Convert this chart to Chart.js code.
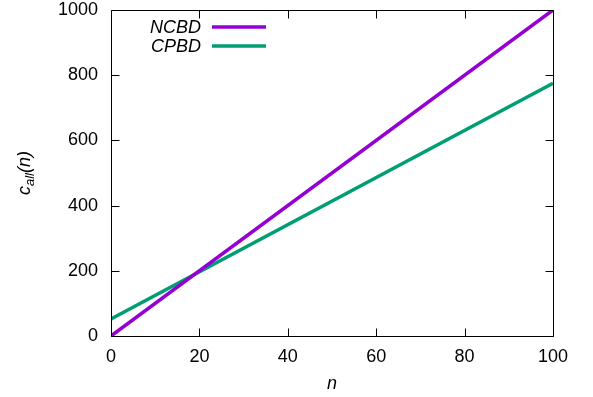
<!DOCTYPE html>
<html>
<head>
<meta charset="utf-8">
<script src="https://cdn.jsdelivr.net/npm/chart.js@4"></script>
<style>
  html, body { margin: 0; padding: 0; background: #fff; }
  #wrap { width: 593px; height: 397px; }
</style>
</head>
<body>
<div id="wrap"><canvas id="c" width="593" height="397"></canvas></div>
<script>
// Cost curves c_all(n) for both methods over n = 0..100
const nValues = [0, 100];
const ncbdValues = [0, 1000];
const cpbdValues = [52, 775];
const seriesNames = ['NCBD', 'CPBD'];
const seriesColors = ['#9400D3', '#009E73'];
const xTicks = [0, 20, 40, 60, 80, 100];
const yTicks = [0, 200, 400, 600, 800, 1000];

const FONT = '"Liberation Sans", Arial, Helvetica, sans-serif';
const FS = 18;
const LW = 3.5;

// Frame, mirrored inward ticks, axis titles and key
const gnuFrame = {
  id: 'gnuFrame',
  afterDatasetsDraw(chart) {
    const { ctx, chartArea: a, scales: { x, y } } = chart;
    ctx.save();
    ctx.strokeStyle = '#000';
    ctx.lineWidth = 1;
    const L = Math.round(a.left) + 0.5, R = Math.round(a.right) + 0.5;
    const T = Math.round(a.top) + 0.5, B = Math.round(a.bottom) + 0.5;
    ctx.beginPath();
    ctx.rect(L, T, R - L, B - T);
    ctx.stroke();
    const tl = 8;
    ctx.beginPath();
    xTicks.forEach(v => {
      const px = Math.round(x.getPixelForValue(v)) + 0.5;
      ctx.moveTo(px, B); ctx.lineTo(px, B - tl);
      ctx.moveTo(px, T); ctx.lineTo(px, T + tl);
    });
    yTicks.forEach(v => {
      const py = Math.round(y.getPixelForValue(v)) + 0.5;
      ctx.moveTo(L, py); ctx.lineTo(L + tl, py);
      ctx.moveTo(R, py); ctx.lineTo(R - tl, py);
    });
    ctx.stroke();

    // key
    ctx.font = 'italic ' + FS + 'px ' + FONT;
    ctx.textAlign = 'right';
    ctx.textBaseline = 'middle';
    seriesNames.forEach((name, i) => {
      const yy = 27 + i * 19;
      ctx.fillStyle = '#000';
      ctx.fillText(name, 201, yy + 1);
      ctx.strokeStyle = seriesColors[i];
      ctx.lineWidth = LW;
      ctx.beginPath();
      ctx.moveTo(212, yy); ctx.lineTo(266, yy);
      ctx.stroke();
    });

    // x title
    ctx.fillStyle = '#000';
    ctx.textAlign = 'center';
    ctx.textBaseline = 'alphabetic';
    ctx.fillText('n', (a.left + a.right) / 2, 389);

    // y title with subscript
    ctx.translate(30, (a.top + a.bottom) / 2);
    ctx.rotate(-Math.PI / 2);
    ctx.textAlign = 'left';
    const big = 'italic ' + FS + 'px ' + FONT;
    const small = 'italic 13px ' + FONT;
    ctx.font = big; const w1 = ctx.measureText('c').width;
    ctx.font = small; const w2 = ctx.measureText('all').width;
    ctx.font = big; const w3 = ctx.measureText('(n)').width;
    let sx = -(w1 + w2 + w3) / 2;
    ctx.font = big; ctx.fillText('c', sx, 0); sx += w1;
    ctx.font = small; ctx.fillText('all', sx, 4); sx += w2;
    ctx.font = big; ctx.fillText('(n)', sx, 0);
    ctx.restore();
  }
};

const plainTick = v => String(v);

new Chart(document.getElementById('c'), {
  type: 'line',
  data: {
    datasets: [
      { label: seriesNames[0], data: nValues.map((n, i) => ({ x: n, y: ncbdValues[i] })),
        borderColor: seriesColors[0], borderWidth: LW, pointRadius: 0, fill: false },
      { label: seriesNames[1], data: nValues.map((n, i) => ({ x: n, y: cpbdValues[i] })),
        borderColor: seriesColors[1], borderWidth: LW, pointRadius: 0, fill: false }
    ]
  },
  options: {
    responsive: false,
    animation: false,
    layout: { padding: { top: 10, right: 40, left: 0, bottom: 0 } },
    plugins: { legend: { display: false }, tooltip: { enabled: false } },
    scales: {
      x: {
        type: 'linear', min: 0, max: 100,
        afterBuildTicks: s => { s.ticks = xTicks.map(v => ({ value: v })); },
        afterFit: s => { s.height = 61; s.paddingLeft = 0; s.paddingRight = 0; },
        grid: { display: false, drawTicks: false },
        border: { display: false },
        ticks: { color: '#000', font: { family: FONT, size: FS }, padding: 10, maxRotation: 0, callback: plainTick }
      },
      y: {
        type: 'linear', min: 0, max: 1000,
        afterBuildTicks: s => { s.ticks = yTicks.map(v => ({ value: v })); },
        afterFit: s => { s.width = 111; s.paddingTop = 0; s.paddingBottom = 0; },
        grid: { display: false, drawTicks: false },
        border: { display: false },
        ticks: { color: '#000', font: { family: FONT, size: FS }, padding: 13, callback: plainTick }
      }
    }
  },
  plugins: [gnuFrame]
});
</script>
</body>
</html>
